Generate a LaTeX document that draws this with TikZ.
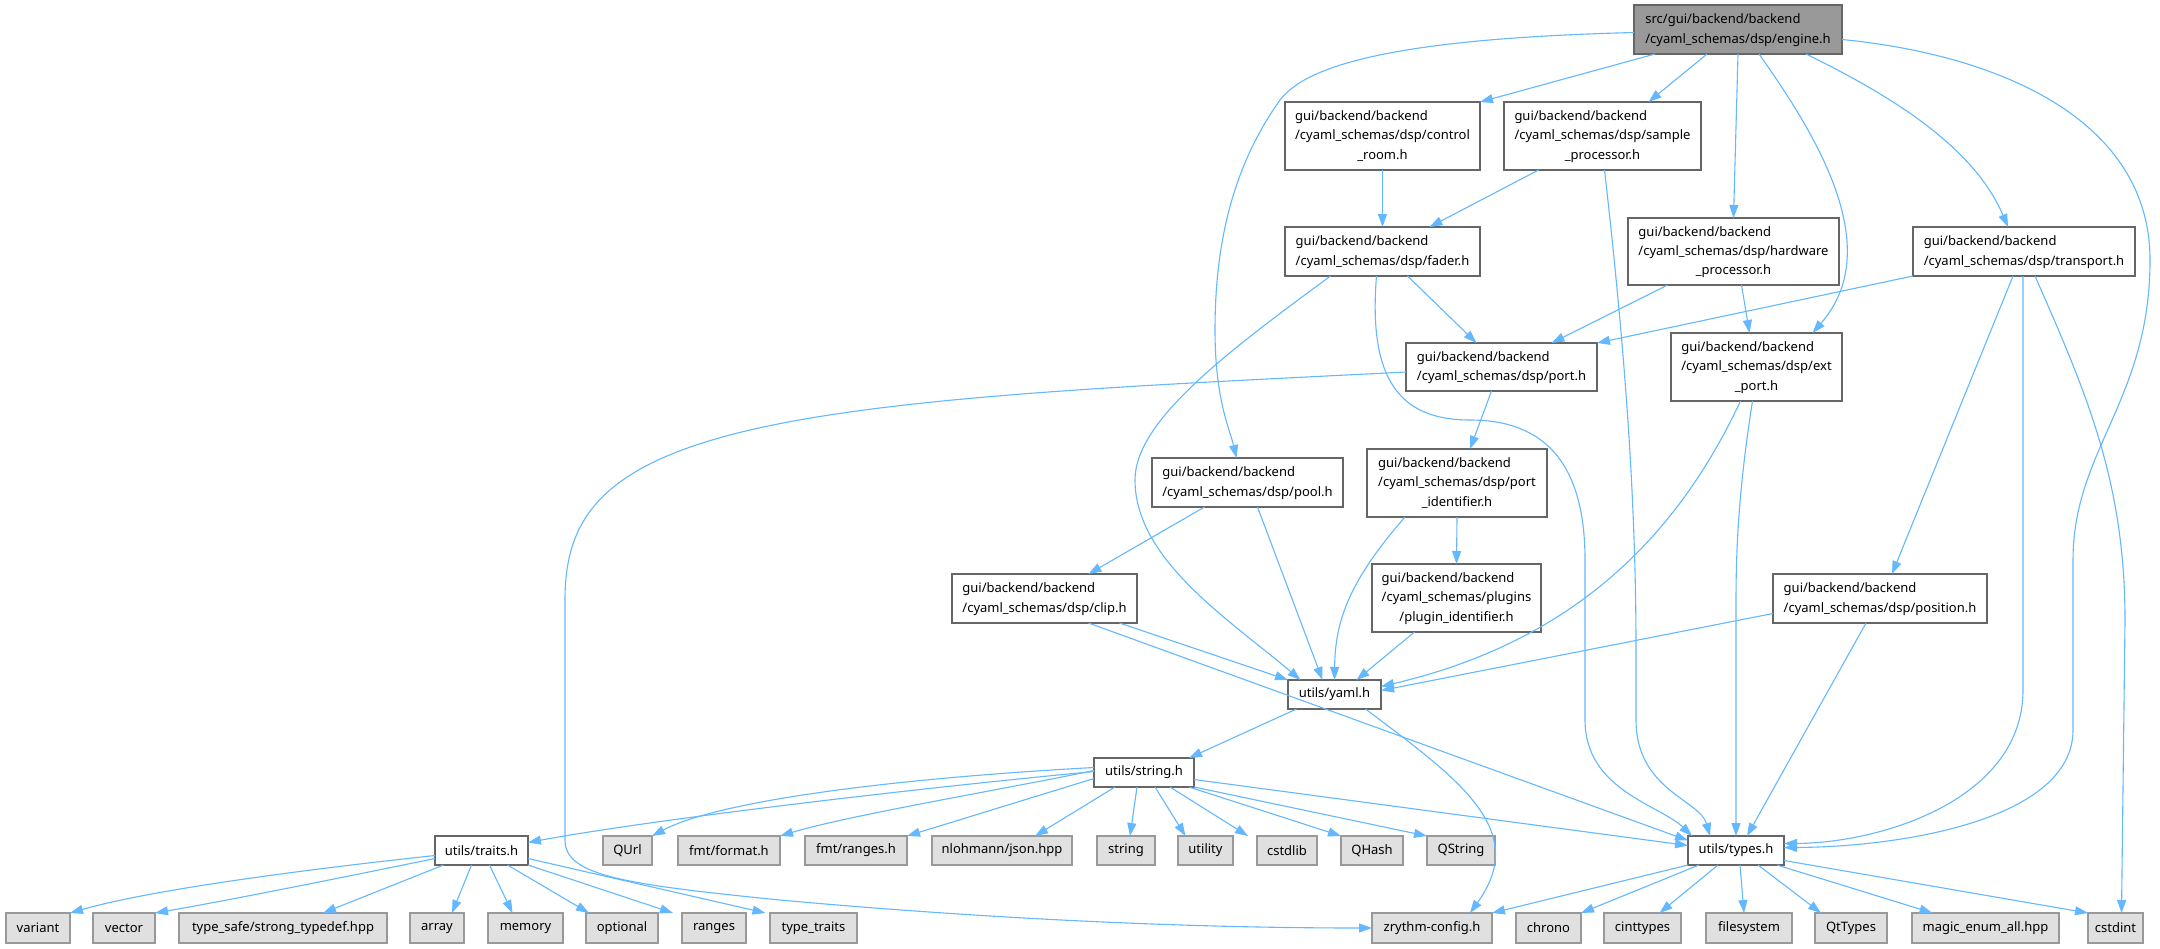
\documentclass[tikz,border=0pt]{standalone}
\usepackage{fontspec}
\setmainfont{Noto Sans}
\usetikzlibrary{arrows.meta}
\definecolor{edgeblue}{HTML}{63B8FF}
\definecolor{boxline}{HTML}{666666}
\definecolor{leafline}{HTML}{999999}
\definecolor{leaffill}{HTML}{E0E0E0}
\definecolor{mainfill}{HTML}{999999}
\newcommand\gtwo[2]{\begin{tabular}{@{}l@{}}#1\\#2\end{tabular}}
\newcommand\gthree[3]{\begin{tabular}{@{}l@{}}#1\\#2\\\multicolumn{1}{@{}c@{}}{#3}\end{tabular}}
\newcommand\gbox[7]{\node[#2,minimum width={(#5-#3)*1pt},minimum height={(#6-#4)*1pt}] (#1) at ({(#3+#5)/2},{(#4+#6)/2}) {#7};}
\tikzset{
  basebox/.style={draw=boxline,fill=white,line width=1.3pt,inner sep=0pt,outer sep=0pt,
    font=\fontsize{13}{19.3}\selectfont,align=center},
  mainbox/.style={basebox,fill=mainfill},
  leafbox/.style={basebox,draw=leafline,fill=leaffill},
  e/.style={draw=edgeblue,line width=1.1pt,-{Triangle[length=13pt,width=9pt]}},
}
\begin{document}
\begin{tikzpicture}[x=1pt,y=-1pt]
\useasboundingbox[fill=white] (0,0) rectangle (2160,948);
% nodes
\gbox{engine}{mainbox}{1634}{5}{1842}{54}{\gtwo{src/gui/backend/backend}{/cyaml\_schemas/dsp/engine.h}}
\gbox{cr}{basebox}{1285}{102}{1480}{170}{\gthree{gui/backend/backend}{/cyaml\_schemas/dsp/control}{\_room.h}}
\gbox{sp}{basebox}{1504}{102}{1701}{170}{\gthree{gui/backend/backend}{/cyaml\_schemas/dsp/sample}{\_processor.h}}
\gbox{fader}{basebox}{1285}{227}{1480}{276}{\gtwo{gui/backend/backend}{/cyaml\_schemas/dsp/fader.h}}
\gbox{hw}{basebox}{1628}{218}{1839}{285}{\gthree{gui/backend/backend}{/cyaml\_schemas/dsp/hardware}{\_processor.h}}
\gbox{transport}{basebox}{1913}{227}{2135}{276}{\gtwo{gui/backend/backend}{/cyaml\_schemas/dsp/transport.h}}
\gbox{port}{basebox}{1406}{343}{1597}{391}{\gtwo{gui/backend/backend}{/cyaml\_schemas/dsp/port.h}}
\gbox{extport}{basebox}{1671}{333}{1842}{401}{\gthree{gui/backend/backend}{/cyaml\_schemas/dsp/ext}{\_port.h}}
\gbox{pool}{basebox}{1152}{458}{1343}{507}{\gtwo{gui/backend/backend}{/cyaml\_schemas/dsp/pool.h}}
\gbox{portid}{basebox}{1367}{449}{1547}{517}{\gthree{gui/backend/backend}{/cyaml\_schemas/dsp/port}{\_identifier.h}}
\gbox{clip}{basebox}{952}{574}{1137}{623}{\gtwo{gui/backend/backend}{/cyaml\_schemas/dsp/clip.h}}
\gbox{plugid}{basebox}{1372}{564}{1541}{632}{\gthree{gui/backend/backend}{/cyaml\_schemas/plugins}{/plugin\_identifier.h}}
\gbox{position}{basebox}{1773}{574}{1987}{623}{\gtwo{gui/backend/backend}{/cyaml\_schemas/dsp/position.h}}
\gbox{yaml}{basebox}{1288}{680}{1381}{709}{utils/yaml.h}
\gbox{string}{basebox}{1094}{758}{1194}{787}{utils/string.h}
\gbox{traits}{basebox}{435}{836}{528}{865}{utils/traits.h}
\gbox{qurl}{leafbox}{603}{836}{652}{865}{QUrl}
\gbox{format}{leafbox}{678}{836}{780}{865}{fmt/format.h}
\gbox{fmtranges}{leafbox}{805}{836}{907}{865}{fmt/ranges.h}
\gbox{json}{leafbox}{932}{836}{1072}{865}{nlohmann/json.hpp}
\gbox{stdstring}{leafbox}{1097}{836}{1155}{865}{string}
\gbox{utility}{leafbox}{1178}{836}{1233}{865}{utility}
\gbox{cstdlib}{leafbox}{1257}{836}{1317}{865}{cstdlib}
\gbox{qhash}{leafbox}{1341}{836}{1403}{865}{QHash}
\gbox{qstring}{leafbox}{1427}{836}{1495}{865}{QString}
\gbox{types}{basebox}{1688}{836}{1784}{865}{utils/types.h}
\gbox{variant}{leafbox}{6}{913}{70}{943}{variant}
\gbox{vector}{leafbox}{93}{913}{155}{943}{vector}
\gbox{typesafe}{leafbox}{179}{913}{387}{943}{type\_safe/strong\_typedef.hpp}
\gbox{array}{leafbox}{410}{913}{464}{943}{array}
\gbox{memory}{leafbox}{488}{913}{563}{943}{memory}
\gbox{optional}{leafbox}{586}{913}{658}{943}{optional}
\gbox{ranges}{leafbox}{682}{913}{746}{943}{ranges}
\gbox{typetraits}{leafbox}{770}{913}{857}{943}{type\_traits}
\gbox{zc}{leafbox}{1372}{913}{1492}{943}{zrythm-config.h}
\gbox{chrono}{leafbox}{1516}{913}{1581}{943}{chrono}
\gbox{cinttypes}{leafbox}{1604}{913}{1681}{943}{cinttypes}
\gbox{filesystem}{leafbox}{1706}{913}{1792}{943}{filesystem}
\gbox{qttypes}{leafbox}{1815}{913}{1887}{943}{QtTypes}
\gbox{magic}{leafbox}{1912}{913}{2059}{943}{magic\_enum\_all.hpp}
\gbox{cstdint}{leafbox}{2088}{913}{2143}{943}{cstdint}
% edges from engine
\draw[e] ([xshift=-83pt]engine.south) -- (cr.north east);
\draw[e] ([xshift=-31pt]engine.south) -- ([xshift=46pt]sp.north);
\draw[e] (engine.south) -- (hw.north);
\draw[e] ([xshift=21pt]engine.south) .. controls (1820,140) and (1885,250) .. ([xshift=56pt]extport.north);
\draw[e] ([xshift=68pt]engine.south) .. controls (1900,100) and (1975,150) .. ([xshift=-16pt]transport.north);
\draw[e] ([yshift=-10pt]engine.east) .. controls (2000,55) and (2150,120) .. (2150,260) .. controls (2150,400) and (2073,450) .. (2073,560) -- (2073,730) .. controls (2073,820) and (1900,847) .. ([yshift=3pt]types.east);
\draw[e] ([yshift=-3pt]engine.west) .. controls (1420,38) and (1310,60) .. (1280,100) .. controls (1230,170) and (1215,250) .. (1215,330) .. controls (1215,400) and (1230,430) .. ([xshift=-11pt]pool.north);
% second level
\draw[e] (cr.south) -- (fader.north);
\draw[e] ([xshift=-64pt]sp.south) -- ([xshift=47pt]fader.north);
\draw[e] ([xshift=2pt]sp.south) .. controls (1625,350) and (1636,500) .. (1636,650) -- (1636,720) .. controls (1636,790) and (1700,800) .. ([xshift=-26pt]types.north);
\draw[e] ([xshift=25pt]fader.south) -- ([xshift=-25pt]port.north);
\draw[e] ([xshift=-52pt]fader.south) .. controls (1230,350) and (1135,420) .. (1135,480) .. controls (1135,560) and (1230,620) .. ([xshift=-34pt]yaml.north);
\draw[e] ([xshift=-6pt]fader.south) .. controls (1368,380) and (1400,420) .. (1470,420) .. controls (1550,420) and (1585,470) .. (1585,560) -- (1585,720) .. controls (1585,790) and (1660,805) .. ([xshift=4pt]types.north west);
\draw[e] ([xshift=-66pt]hw.south) -- ([xshift=50pt]port.north);
\draw[e] ([xshift=8pt]hw.south) -- ([xshift=-7pt]extport.north);
\draw[e] (transport.south west) -- (port.north east);
\draw[e] ([xshift=-11pt]transport.south) -- ([xshift=12pt]position.north);
\draw[e] ([xshift=-1pt]transport.south) -- (2023,690) .. controls (2023,800) and (1880,843) .. ([yshift=7pt]types.east);
\draw[e] ([xshift=11pt]transport.south) .. controls (2085,390) and (2125,480) .. (2125,620) -- ([xshift=6pt]cstdint.north);
\draw[e] ([xshift=-10pt]port.south) -- ([xshift=13pt]portid.north);
\draw[e] ([yshift=-5pt]port.west) .. controls (1150,385) and (900,395) .. (750,430) .. controls (600,465) and (565,520) .. (565,600) -- (565,840) .. controls (565,875) and (620,884) .. (780,900) .. controls (1000,920) and (1200,928) .. (zc.west);
\draw[e] ([xshift=-16pt]extport.south) .. controls (1680,530) and (1580,640) .. ([yshift=8pt]yaml.east);
\draw[e] ([xshift=-4pt]extport.south) .. controls (1740,480) and (1736,540) .. (1736,600) -- (types.north);
\draw[e] ([xshift=-43pt]pool.south) -- ([xshift=44pt]clip.north);
\draw[e] ([xshift=10pt]pool.south) -- ([xshift=-12pt]yaml.north);
\draw[e] ([xshift=-52pt]portid.south) .. controls (1350,580) and (1335,620) .. (yaml.north);
\draw[e] (portid.south) -- (plugid.north);
\draw[e] ([xshift=-42pt]plugid.south) -- ([xshift=22pt]yaml.north);
\draw[e] ([xshift=75pt]clip.south) -- (yaml.north west);
\draw[e] ([xshift=44pt]clip.south) -- ([yshift=10pt]types.west);
\draw[e] ([yshift=-15pt]position.west) -- ([yshift=4pt]yaml.east);
\draw[e] ([xshift=-14pt]position.south) -- ([xshift=11pt]types.north);
\draw[e] ([xshift=-38pt]yaml.south) -- ([xshift=45pt]string.north);
\draw[e] ([xshift=31pt]yaml.south) .. controls (1460,780) and (1530,830) .. ([xshift=38pt]zc.north);
% string.h
\draw[e] ([yshift=1pt]string.west) .. controls (900,790) and (650,820) .. ([yshift=8pt]traits.east);
\draw[e] ([yshift=5pt]string.west) .. controls (900,778) and (720,800) .. (qurl.north east);
\draw[e] ([yshift=2pt]string.west) .. controls (1000,790) and (850,815) .. (format.north east);
\draw[e] ([yshift=-6pt]string.west) -- (fmtranges.north east);
\draw[e] ([xshift=-29pt]string.south) -- ([xshift=33pt]json.north);
\draw[e] ([xshift=-7pt]string.south) -- ([xshift=4pt]stdstring.north);
\draw[e] ([xshift=11pt]string.south) -- ([xshift=-20pt]utility.north);
\draw[e] ([xshift=26pt]string.south) -- ([xshift=-39pt]cstdlib.north);
\draw[e] ([xshift=45pt]string.south) -- (qhash.north west);
\draw[e] (string.south east) -- (qstring.north west);
\draw[e] ([yshift=-7pt]string.east) -- ([yshift=5pt]types.west);
% traits.h
\draw[e] ([yshift=-5pt]traits.west) .. controls (300,870) and (150,890) .. (variant.north east);
\draw[e] ([yshift=-8pt]traits.west) .. controls (330,880) and (230,900) .. (vector.north east);
\draw[e] ([xshift=-38pt]traits.south) -- ([xshift=40pt]typesafe.north);
\draw[e] ([xshift=-10pt]traits.south) -- ([xshift=15pt]array.north);
\draw[e] ([xshift=8pt]traits.south) -- ([xshift=-13pt]memory.north);
\draw[e] ([xshift=26pt]traits.south) -- ([xshift=-33pt]optional.north);
\draw[e] (traits.south east) -- ([xshift=-41pt]ranges.north);
\draw[e] ([yshift=-8pt]traits.east) -- ([xshift=-48pt]typetraits.north);
% types.h
\draw[e] (types.south west) -- (zc.north east);
\draw[e] ([xshift=-37pt]types.south) -- (chrono.north east);
\draw[e] ([xshift=-18pt]types.south) -- ([xshift=17pt]cinttypes.north);
\draw[e] ([xshift=4pt]types.south) -- ([xshift=-5pt]filesystem.north);
\draw[e] ([xshift=22pt]types.south) -- ([xshift=-30pt]qttypes.north);
\draw[e] ([xshift=41pt]types.south) -- ([xshift=-53pt]magic.north);
\draw[e] ([yshift=-10pt]types.east) -- (cstdint.north west);
\end{tikzpicture}
\end{document}
